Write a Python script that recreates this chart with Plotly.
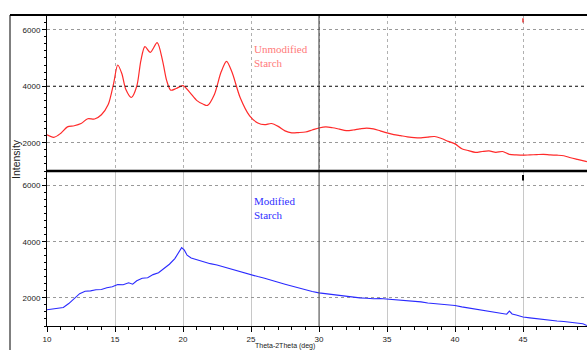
import plotly.graph_objects as go
from plotly.subplots import make_subplots

# ---------------- data ----------------
unmod_x = [10.0, 10.5, 11.0, 11.5, 12.0, 12.5, 13.0, 13.5, 14.0, 14.5, 14.9, 15.2, 15.5, 15.8,
           16.2, 16.6, 16.9, 17.2, 17.6, 18.1, 18.5, 18.8, 19.1, 19.5, 20.0, 20.5, 21.0, 21.5,
           21.8, 22.3, 22.8, 23.2, 23.6, 24.2, 24.9, 25.5, 26.0, 26.5, 27.0, 27.5, 28.0, 28.5,
           29.0, 29.5, 30.0, 30.5, 31.0, 31.5, 32.0, 32.5, 33.0, 33.5, 34.0, 34.5, 35.0, 35.5,
           36.0, 36.5, 37.0, 37.5, 38.0, 38.5, 39.0, 39.5, 40.0, 40.5, 41.0, 41.5, 42.0, 42.5,
           43.0, 43.5, 44.0, 44.5, 45.0, 45.5, 46.0, 46.5, 47.0, 47.5, 48.0, 48.5, 49.0, 49.7]
unmod_y = [2280, 2190, 2330, 2560, 2600, 2680, 2850, 2840, 2990, 3350, 4100, 4750, 4450, 3880,
           3600, 4000, 4900, 5400, 5200, 5540, 4900, 4200, 3860, 3920, 4020, 3780, 3500, 3360,
           3320, 3700, 4500, 4880, 4500, 3600, 2950, 2700, 2640, 2680, 2580, 2420, 2350, 2360,
           2380, 2450, 2520, 2560, 2530, 2480, 2430, 2450, 2490, 2520, 2490, 2420, 2350, 2290,
           2250, 2210, 2180, 2170, 2200, 2220, 2150, 2050, 1960, 1790, 1720, 1660, 1690, 1710,
           1660, 1690, 1590, 1570, 1560, 1570, 1580, 1590, 1570, 1560, 1540, 1470, 1410, 1330]

mod_x = [10.0, 10.4, 10.8, 11.2, 11.6, 12.0, 12.4, 12.8, 13.2, 13.6, 14.0, 14.4, 14.8, 15.2,
         15.6, 16.0, 16.3, 16.6, 17.0, 17.4, 17.8, 18.2, 18.6, 19.0, 19.4, 19.7, 19.9, 20.1,
         20.3, 20.6, 21.0, 21.5, 22.0, 22.5, 23.0, 23.5, 24.0, 24.5, 25.0, 25.5, 26.0, 26.5,
         27.0, 27.5, 28.0, 28.5, 29.0, 29.5, 30.0, 30.5, 31.0, 31.5, 32.0, 32.5, 33.0, 33.5,
         34.0, 34.5, 35.0, 35.5, 36.0, 36.5, 37.0, 37.5, 38.0, 38.5, 39.0, 39.5, 40.0, 40.5,
         41.0, 41.5, 42.0, 42.5, 43.0, 43.5, 43.8, 44.0, 44.2, 44.5, 45.0, 45.5, 46.0, 46.5,
         47.0, 47.5, 48.0, 48.5, 49.0, 49.4, 49.7]
mod_y = [1580, 1600, 1620, 1660, 1800, 1980, 2150, 2240, 2250, 2290, 2300, 2360, 2400, 2480,
         2470, 2540, 2490, 2610, 2700, 2720, 2830, 2900, 3060, 3200, 3400, 3650, 3790, 3700,
         3520, 3420, 3360, 3280, 3220, 3170, 3100, 3030, 2960, 2880, 2810, 2760, 2700, 2620,
         2560, 2490, 2420, 2350, 2280, 2230, 2180, 2150, 2110, 2070, 2040, 2030, 2000, 1990,
         1970, 1980, 1960, 1940, 1930, 1920, 1900, 1860, 1820, 1800, 1790, 1760, 1730, 1680,
         1640, 1600, 1560, 1510, 1470, 1440, 1420, 1530, 1430, 1390, 1320, 1290, 1260, 1230,
         1190, 1180, 1160, 1140, 1120, 1080, 1020]

x_ticks = [10, 15, 20, 25, 30, 35, 40, 45]
y_ticks = [2000, 4000, 6000]
label_top = "Unmodified<br>Starch"
label_bottom = "Modified<br>Starch"
x_title = "Theta-2Theta (deg)"
y_title = "Intensity"
peak_mark_x = [45]

# ---------------- layout geometry ----------------
W, H = 587, 350
ML, MR, MT, MB = 47, 0, 15, 24
PW, PH = W - ML - MR, H - MT - MB
SPLIT = 171  # pixel row of the divider


def px(xp):
    return (xp - ML) / PW


def py(yp):
    return (H - MB - yp) / PH


fig = make_subplots(rows=2, cols=1, shared_xaxes=False, vertical_spacing=0)

fig.add_trace(go.Scatter(x=unmod_x, y=unmod_y, mode="lines",
                         line=dict(color="#ff2a2a", width=1.2, shape="spline", smoothing=0.8),
                         showlegend=False), row=1, col=1)
fig.add_trace(go.Scatter(x=mod_x, y=mod_y, mode="lines",
                         line=dict(color="#2a2aff", width=1.1),
                         showlegend=False), row=2, col=1)
# small peak markers at 45 deg
fig.add_trace(go.Scatter(x=peak_mark_x, y=[6330], mode="markers",
                         marker=dict(symbol="line-ns-open", size=3, color="#e03030",
                                     line=dict(width=1.5, color="#e03030")),
                         showlegend=False), row=1, col=1)
fig.add_trace(go.Scatter(x=peak_mark_x, y=[6280], mode="markers",
                         marker=dict(symbol="line-ns-open", size=4, color="black",
                                     line=dict(width=2, color="black")),
                         showlegend=False), row=2, col=1)

xr = [10, 10 + PW / 13.6]
yr = [1000, 6520]
dom_split = py(SPLIT)

tickfont = dict(family="Liberation Sans Narrow, Liberation Sans, Arial", size=8, color="#222")

fig.update_xaxes(range=xr, tickvals=x_ticks, showline=False, zeroline=False,
                 showgrid=True, gridcolor="#c8c8c8", gridwidth=1)
fig.update_xaxes(row=1, col=1, showticklabels=False, griddash="dot", gridcolor="#b0b0b0",
                 ticks="")
fig.update_xaxes(row=2, col=1, showticklabels=True, ticks="outside", ticklen=5,
                 tickcolor="black", tickfont=tickfont, showline=True, linecolor="black",
                 linewidth=1,
                 minor=dict(dtick=1, ticks="outside", ticklen=3, tickcolor="black",
                            showgrid=False))
fig.update_yaxes(range=yr, tickvals=y_ticks, ticks="outside", ticklen=4, tickcolor="black",
                 tickfont=tickfont, showline=True, linecolor="black", linewidth=1,
                 zeroline=False, showgrid=True, gridcolor="#999999", griddash="dot",
                 minor=dict(dtick=250, ticks="outside", ticklen=2, tickcolor="black",
                            showgrid=False))

fig.update_layout(
    xaxis=dict(domain=[0, 1]), xaxis2=dict(domain=[0, 1]),
    yaxis=dict(domain=[dom_split, 1]), yaxis2=dict(domain=[0, dom_split]),
    width=W, height=H, margin=dict(l=ML, r=MR, t=MT, b=MB),
    plot_bgcolor="white", paper_bgcolor="white",
)

shapes = []
# emphasized grid lines
shapes.append(dict(type="line", xref="x", yref="y domain", x0=30, x1=30, y0=0, y1=1,
                   line=dict(color="#333333", width=1)))
shapes.append(dict(type="line", xref="x domain", yref="y", x0=0, x1=1, y0=4000, y1=4000,
                   line=dict(color="#222222", width=1, dash="dot")))
shapes.append(dict(type="line", xref="x2", yref="y2 domain", x0=30, x1=30, y0=0, y1=1,
                   line=dict(color="#555555", width=1)))
# frame lines
shapes.append(dict(type="line", xref="paper", yref="paper", x0=px(10), x1=px(W), y0=py(15),
                   y1=py(15), line=dict(color="black", width=2.2)))
shapes.append(dict(type="line", xref="paper", yref="paper", x0=px(ML), x1=px(W),
                   y0=py(SPLIT), y1=py(SPLIT), line=dict(color="black", width=2.5)))
shapes.append(dict(type="line", xref="paper", yref="paper", x0=px(10), x1=px(10), y0=py(15),
                   y1=py(H), line=dict(color="black", width=1)))
fig.update_layout(shapes=shapes)

serif = "Liberation Serif, Times New Roman, serif"
fig.add_annotation(text=label_top, xref="paper", yref="paper", x=px(252), y=py(41),
                   xanchor="left", yanchor="top", align="left", showarrow=False,
                   font=dict(family=serif, size=11, color="#ff7a7a"))
fig.add_annotation(text=label_bottom, xref="paper", yref="paper", x=px(252), y=py(193),
                   xanchor="left", yanchor="top", align="left", showarrow=False,
                   font=dict(family=serif, size=11, color="#3030ff"))
fig.add_annotation(text=y_title, xref="paper", yref="paper", x=px(16), y=py(159),
                   xanchor="center", yanchor="middle", textangle=-90, showarrow=False,
                   font=dict(family="Liberation Sans, Arial", size=10.5, color="#222"))
fig.add_annotation(text=x_title, xref="paper", yref="paper", x=px(285), y=py(346),
                   xanchor="center", yanchor="middle", showarrow=False,
                   font=dict(family="Liberation Sans Narrow, Liberation Sans, Arial", size=7,
                             color="#222"))

fig.write_html("out.html")
